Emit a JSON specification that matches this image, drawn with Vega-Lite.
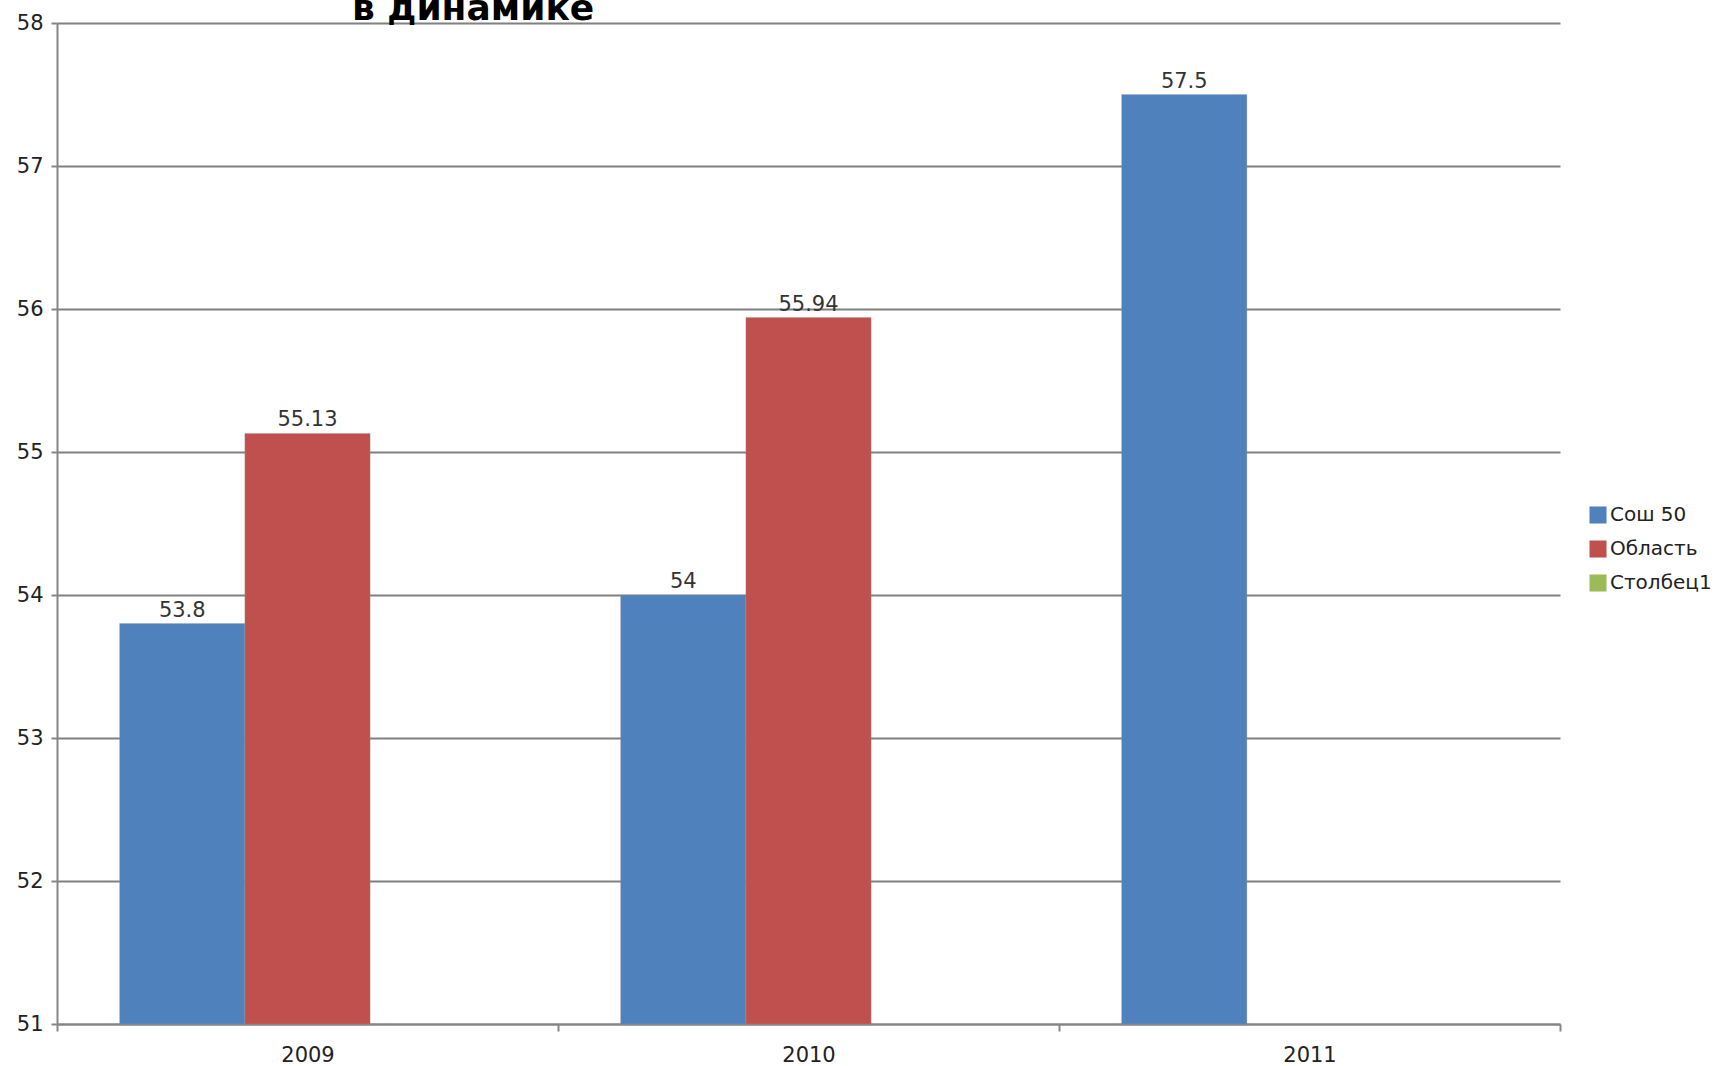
{
  "$schema": "https://vega.github.io/schema/vega-lite/v6.json",
  "autosize": {"type": "none"},
  "width": 1503,
  "height": 1001,
  "padding": {"left": 57, "top": 23, "right": 163, "bottom": 42},
  "background": "white",
  "title": {
    "text": "в динамике",
    "anchor": "start",
    "frame": "group",
    "dx": 295,
    "offset": 0,
    "dy": 44,
    "baseline": "alphabetic",
    "font": "DejaVu Sans",
    "fontWeight": "bold",
    "fontSize": 36,
    "color": "#000000"
  },
  "data": {
    "values": [
      {"year": "2009", "series": "Сош 50", "value": 53.8},
      {"year": "2009", "series": "Область", "value": 55.13},
      {"year": "2010", "series": "Сош 50", "value": 54},
      {"year": "2010", "series": "Область", "value": 55.94},
      {"year": "2011", "series": "Сош 50", "value": 57.5}
    ]
  },
  "encoding": {
    "x": {
      "field": "year",
      "type": "nominal",
      "scale": {"paddingInner": 0, "paddingOuter": 0},
      "axis": {
        "title": null,
        "labelAngle": 0,
        "tickBand": "extent",
        "domainColor": "#868686",
        "domainWidth": 2,
        "tickColor": "#868686",
        "tickWidth": 2,
        "tickSize": 7,
        "labelFont": "DejaVu Sans",
        "labelFontSize": 21,
        "labelColor": "#222222",
        "labelPadding": 13
      }
    },
    "xOffset": {
      "field": "series",
      "type": "nominal",
      "scale": {"domain": ["Сош 50", "Область", "Столбец1"], "paddingInner": 0, "paddingOuter": 0.5}
    },
    "y": {
      "field": "value",
      "type": "quantitative",
      "scale": {"domain": [51, 58], "zero": false, "nice": false},
      "axis": {
        "title": null,
        "values": [51, 52, 53, 54, 55, 56, 57, 58],
        "grid": true,
        "gridColor": "#808080",
        "gridWidth": 2,
        "domainColor": "#868686",
        "domainWidth": 2,
        "tickColor": "#868686",
        "tickWidth": 2,
        "tickSize": 6,
        "labelFont": "DejaVu Sans",
        "labelFontSize": 21,
        "labelColor": "#222222",
        "labelPadding": 8
      }
    }
  },
  "layer": [
    {
      "mark": {"type": "bar", "stroke": "#9a9a9a", "strokeWidth": 0.6, "strokeOpacity": 0.5},
      "encoding": {
        "y2": {"datum": 51},
        "color": {
          "field": "series",
          "type": "nominal",
          "scale": {"domain": ["Сош 50", "Область", "Столбец1"], "range": ["#4F81BD", "#C0504D", "#9BBB59"]},
          "legend": {
            "title": null,
            "orient": "none",
            "legendX": 1531,
            "legendY": 482,
            "symbolType": "square",
            "symbolSize": 290,
            "symbolStrokeWidth": 0,
            "symbolOpacity": 1,
            "labelFont": "DejaVu Sans",
            "labelFontSize": 20,
            "labelColor": "#222222",
            "rowPadding": 14,
            "labelOffset": 2
          }
        }
      }
    },
    {
      "mark": {"type": "text", "baseline": "bottom", "dy": -3, "font": "DejaVu Sans", "fontSize": 21, "color": "#333333"},
      "encoding": {
        "text": {"field": "value", "type": "quantitative"}
      }
    }
  ],
  "config": {"view": {"stroke": null}}
}
